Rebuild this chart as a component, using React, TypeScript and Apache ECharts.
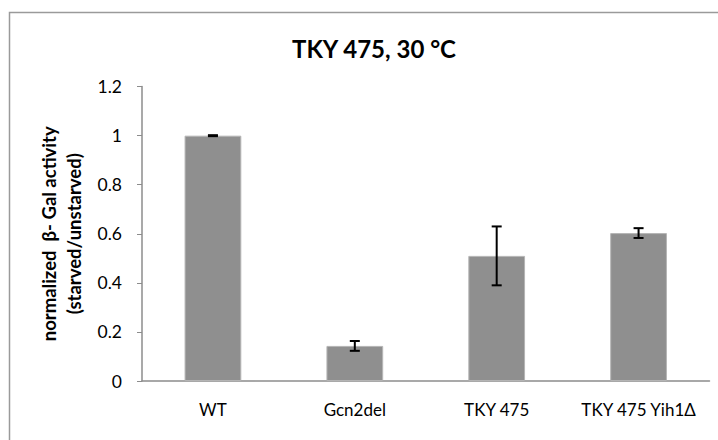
import React, { useEffect, useRef } from "react";
import * as echarts from "echarts";

const categories = ["WT", "Gcn2del", "TKY 475", "TKY 475 Yih1Δ"];
const values = [1.0, 0.143, 0.51, 0.603];
const errors = [0.002, 0.02, 0.12, 0.02];
const yTicks = [0, 0.2, 0.4, 0.6, 0.8, 1, 1.2];

const FONT = "Lato";

export default function App() {
  const ref = useRef<HTMLDivElement>(null);
  useEffect(() => {
    document.body.style.margin = "0";
    const chart = echarts.init(ref.current!, null, { renderer: "svg" });
    const errData = values.map((v, i) => [i, v - errors[i], v + errors[i]]);
    chart.setOption({
      animation: false,
      backgroundColor: "#ffffff",
      textStyle: { fontFamily: FONT },
      title: {
        text: "TKY 475, 30 °C",
        left: 369,
        textAlign: "center",
        top: 31,
        textStyle: { fontFamily: FONT, fontSize: 24, fontWeight: "bold", color: "#000" },
      },
      graphic: [
        {
          type: "rect",
          shape: { x: 9.5, y: 12.5, width: 780, height: 500 },
          style: { fill: "none", stroke: "#9a9a9a", lineWidth: 1.5 },
          silent: true,
        },
      ],
      grid: { left: 142, right: 8.5, top: 86.6, bottom: 59, containLabel: false },
      xAxis: {
        type: "category",
        data: categories,
        axisLine: { lineStyle: { color: "#8c8c8c", width: 1.5 } },
        axisTick: { show: false },
        axisLabel: { fontFamily: FONT, fontSize: 17, color: "#000", margin: 20, interval: 0 },
      },
      yAxis: {
        type: "value",
        min: 0,
        max: yTicks[yTicks.length - 1],
        interval: 0.2,
        splitLine: { show: false },
        axisLine: { show: true, lineStyle: { color: "#8c8c8c", width: 1.5 } },
        axisTick: { show: true, length: 5, lineStyle: { color: "#8c8c8c", width: 1 } },
        axisLabel: {
          fontFamily: FONT,
          fontSize: 17.5,
          color: "#000",
          margin: 20,
          formatter: (v: number) => String(Math.round(v * 10) / 10),
        },
        name: "normalized  β- Gal activity\n(starved/unstarved)",
        nameLocation: "middle",
        nameGap: 53,
        nameTextStyle: {
          fontFamily: FONT,
          fontSize: 18.5,
          fontWeight: "bold",
          color: "#000",
          lineHeight: 25,
        },
      },
      series: [
        {
          type: "bar",
          data: values,
          barCategoryGap: "60%",
          itemStyle: { color: "#8f8f8f", borderColor: "#b5b5b5", borderWidth: 1 },
        },
        {
          type: "custom",
          data: errData,
          z: 10,
          renderItem: (params: any, api: any) => {
            const x = api.value(0);
            const lo = api.coord([x, api.value(1)]);
            const hi = api.coord([x, api.value(2)]);
            const hw = 5;
            const style = { stroke: "#000", lineWidth: 2 };
            return {
              type: "group",
              children: [
                { type: "line", shape: { x1: lo[0], y1: lo[1], x2: hi[0], y2: hi[1] }, style },
                { type: "line", shape: { x1: lo[0] - hw, y1: lo[1], x2: lo[0] + hw, y2: lo[1] }, style },
                { type: "line", shape: { x1: hi[0] - hw, y1: hi[1], x2: hi[0] + hw, y2: hi[1] }, style },
              ],
            };
          },
        },
      ],
    });
    return () => chart.dispose();
  }, []);
  return (
    <div
      ref={ref}
      style={{ position: "absolute", left: 0, top: 0, width: 718, height: 440 }}
    />
  );
}
